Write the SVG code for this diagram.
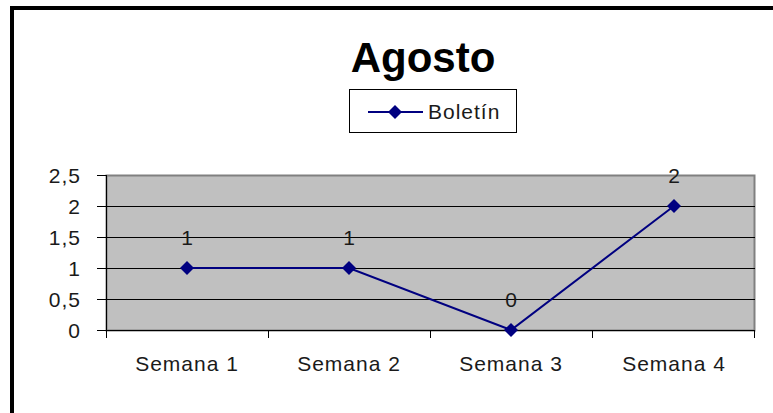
<svg xmlns="http://www.w3.org/2000/svg" width="773" height="413" viewBox="0 0 773 413">
<style>
text{font-family:"Liberation Sans",Arial,sans-serif;fill:#1a1a1a}
.ax{font-size:21px;text-anchor:end;letter-spacing:1px}
.cat{font-size:21px;text-anchor:middle;letter-spacing:1px}
.dl{font-size:21px;text-anchor:middle}
.grid{stroke:#000;stroke-width:1}
.tick{stroke:#000;stroke-width:1}
</style>
<defs>
<path id="dia" d="M0,-7 L7,0 L0,7 L-7,0 Z" fill="#000080"/>
</defs>
<rect width="773" height="413" fill="#fff"/>
<path d="M12,413 V8 H773" fill="none" stroke="#000" stroke-width="4"/>
<g id="title"><text x="423" y="72" font-size="42" font-weight="bold" text-anchor="middle" style="fill:#000">Agosto</text></g>
<g id="legend">
<rect x="349.5" y="89.5" width="167" height="43" fill="#fff" stroke="#000"/>
<line x1="368" y1="112" x2="423" y2="112" stroke="#000080" stroke-width="2"/>
<use href="#dia" x="395" y="112"/>
<text x="428" y="119" font-size="21" letter-spacing="1">Boletín</text>
</g>
<g id="plot">
<rect x="106.5" y="175.5" width="648" height="155" fill="#c0c0c0" stroke="#808080" stroke-width="2"/>
<g class="grid">
<line x1="106" y1="206.5" x2="755" y2="206.5"/>
<line x1="106" y1="237.5" x2="755" y2="237.5"/>
<line x1="106" y1="268.5" x2="755" y2="268.5"/>
<line x1="106" y1="299.5" x2="755" y2="299.5"/>
</g>
<g class="tick">
<line x1="106.5" y1="175" x2="106.5" y2="338"/>
<line x1="97" y1="330.5" x2="755" y2="330.5"/>
<line x1="97" y1="175.5" x2="106" y2="175.5"/>
<line x1="97" y1="206.5" x2="106" y2="206.5"/>
<line x1="97" y1="237.5" x2="106" y2="237.5"/>
<line x1="97" y1="268.5" x2="106" y2="268.5"/>
<line x1="97" y1="299.5" x2="106" y2="299.5"/>
<line x1="268.5" y1="330" x2="268.5" y2="338"/>
<line x1="430.5" y1="330" x2="430.5" y2="338"/>
<line x1="592.5" y1="330" x2="592.5" y2="338"/>
<line x1="754.5" y1="330" x2="754.5" y2="338"/>
</g>
<g id="yaxis">
<text class="ax" x="81" y="183">2,5</text>
<text class="ax" x="81" y="214">2</text>
<text class="ax" x="81" y="245">1,5</text>
<text class="ax" x="81" y="276">1</text>
<text class="ax" x="81" y="307">0,5</text>
<text class="ax" x="81" y="338">0</text>
</g>
<g id="xaxis">
<text class="cat" x="187" y="371">Semana 1</text>
<text class="cat" x="349" y="371">Semana 2</text>
<text class="cat" x="511" y="371">Semana 3</text>
<text class="cat" x="674" y="371">Semana 4</text>
</g>
</g>
<g id="connectors">
<polyline points="187,268 349,268 511,330 674,206" fill="none" stroke="#000080" stroke-width="2"/>
</g>
<g id="points">
<use href="#dia" x="187" y="268"/>
<use href="#dia" x="349" y="268"/>
<use href="#dia" x="511" y="330"/>
<use href="#dia" x="674" y="206"/>
</g>
<g id="labels">
<text class="dl" x="187" y="245">1</text>
<text class="dl" x="349" y="245">1</text>
<text class="dl" x="511" y="307">0</text>
<text class="dl" x="674" y="183">2</text>
</g>
</svg>
